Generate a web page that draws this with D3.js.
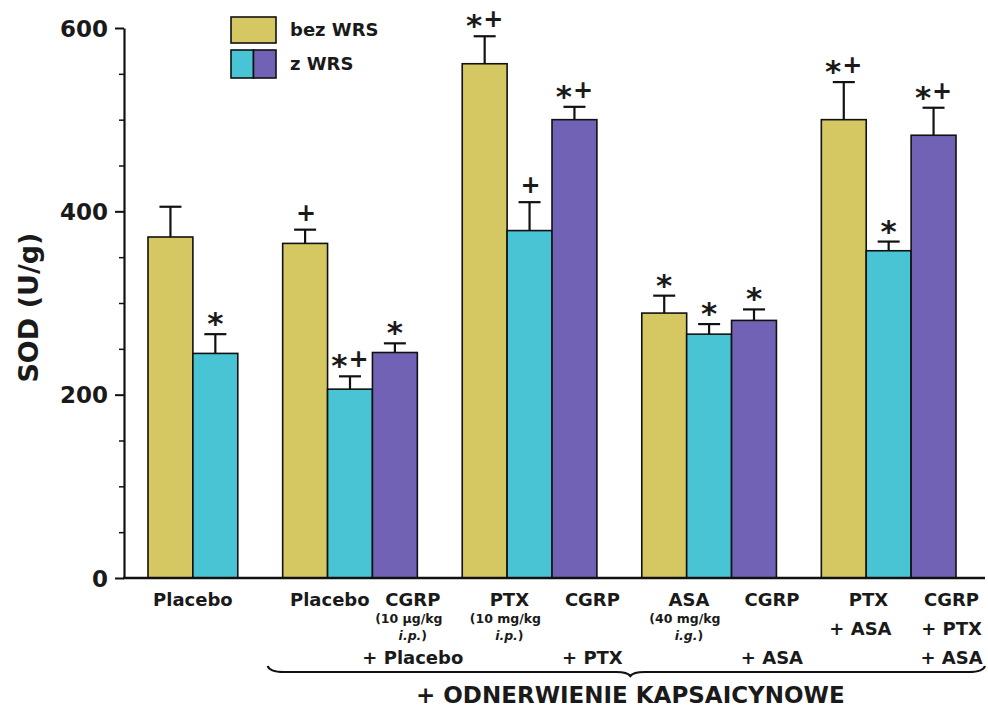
<!DOCTYPE html>
<html>
<head>
  <meta charset="utf-8">
  <title>SOD (U/g)</title>
  <script src="https://d3js.org/d3.v7.min.js"></script>
  <style>
    body { margin: 0; background: #fff; }
    text { font-family: "DejaVu Sans", "Liberation Sans", Arial, sans-serif; font-weight: bold; fill: #1a1a1a; }
  </style>
</head>
<body>
  <svg id="chart" width="988" height="707"></svg>
  <script>
    // dane
    const seriesNames = ["bez WRS", "z WRS"];
    const sodMean = [[372, 245], [365, 206, 246], [561, 379, 500], [289, 266, 281], [500, 357, 483]];
    const sodErr = [[33, 21], [15, 14, 10], [30, 31, 14], [19, 11, 12], [41, 10, 30]];
    const signif = [["", "*"], ["+", "*+", "*"], ["*+", "+", "*+"], ["*", "*", "*"], ["*+", "*", "*+"]];
    const yTicks = [0, 200, 400, 600];
    const treatLabels = [["Placebo"], ["Placebo", "CGRP"], ["PTX", "CGRP"], ["ASA", "CGRP"], ["PTX", "CGRP"]];
    const doseLabels = [[""], ["", "(10 µg/kg"], ["(10 mg/kg", ""], ["(40 mg/kg", ""], ["", ""]];
    const routeLabels = [[""], ["", "i.p."], ["i.p.", ""], ["i.g.", ""], ["", ""]];
    const addRowA = [[""], ["", ""], ["", ""], ["", ""], ["+ ASA", "+ PTX"]];
    const addRowB = [[""], ["", "+ Placebo"], ["", "+ PTX"], ["", "+ ASA"], ["", "+ ASA"]];
    const braceTitle = "+ ODNERWIENIE KAPSAICYNOWE";
    const axisTitle = "SOD (U/g)";

    const colors = ["#d5c862", "#48c4d4", "#7262b6"];

    const svg = d3.select("#chart");

    // sloty słupków z przerwami między grupami
    const slots = [];
    sodMean.forEach((g, gi) => {
      if (gi > 0) slots.push("gap" + gi);
      g.forEach((v, bi) => slots.push(gi + "-" + bi));
    });
    const x = d3.scaleBand().domain(slots).range([148, 956]).padding(0);
    const bw = x.bandwidth();
    const y = d3.scaleLinear().domain([0, 600]).range([578, 28]);
    const axisX = 124;

    const bars = [];
    sodMean.forEach((g, gi) => g.forEach((v, bi) => bars.push({
      gi, bi, v, err: sodErr[gi][bi], mark: signif[gi][bi], key: gi + "-" + bi
    })));

    // słupki
    svg.append("g").selectAll("rect").data(bars).join("rect")
      .attr("x", d => x(d.key))
      .attr("y", d => y(d.v))
      .attr("width", bw)
      .attr("height", d => y(0) - y(d.v))
      .attr("fill", d => colors[d.bi])
      .attr("stroke", "#111")
      .attr("stroke-width", 1.6);

    // słupki błędów
    const eb = svg.append("g").attr("stroke", "#111").attr("stroke-width", 2.2);
    eb.selectAll("line.v").data(bars).join("line").attr("class", "v")
      .attr("x1", d => x(d.key) + bw / 2).attr("x2", d => x(d.key) + bw / 2)
      .attr("y1", d => y(d.v)).attr("y2", d => y(d.v + d.err));
    eb.selectAll("line.c").data(bars).join("line").attr("class", "c")
      .attr("x1", d => x(d.key) + bw / 2 - 11).attr("x2", d => x(d.key) + bw / 2 + 11)
      .attr("y1", d => y(d.v + d.err)).attr("y2", d => y(d.v + d.err));

    // oznaczenia istotności
    const marks = svg.append("g").selectAll("text").data(bars.filter(d => d.mark)).join("text")
      .attr("x", d => x(d.key) + bw / 2)
      .attr("y", d => y(d.v + d.err) - 9)
      .attr("text-anchor", "middle");
    marks.each(function (d) {
      const t = d3.select(this);
      d.mark.split("").forEach(ch => {
        if (ch === "*") t.append("tspan").attr("font-size", 31).attr("baseline-shift", "-28%").text("*");
        else t.append("tspan").attr("font-size", 24).attr("dx", 1).text("+");
      });
    });

    // oś Y
    const yAxis = svg.append("g")
      .attr("transform", `translate(${axisX},0)`)
      .call(d3.axisLeft(y).tickValues(yTicks).tickSize(9).tickSizeOuter(0).tickPadding(7));
    yAxis.select(".domain").attr("stroke", "#111").attr("stroke-width", 2.2);
    yAxis.selectAll(".tick line").attr("stroke", "#111").attr("stroke-width", 2);
    yAxis.selectAll(".tick text").attr("font-size", 23).attr("font-family", null).attr("fill", "#1a1a1a").attr("dy", "0.36em");

    const minor = d3.range(50, 600, 50).filter(v => v % 200 !== 0);
    svg.append("g")
      .attr("transform", `translate(${axisX},0)`)
      .call(d3.axisLeft(y).tickValues(minor).tickSize(5).tickSizeOuter(0).tickFormat(""))
      .call(g => g.select(".domain").remove())
      .selectAll(".tick line").attr("stroke", "#111").attr("stroke-width", 1.5);

    // oś X
    svg.append("line")
      .attr("x1", axisX - 1).attr("x2", x.range()[1] + 29)
      .attr("y1", y(0)).attr("y2", y(0))
      .attr("stroke", "#111").attr("stroke-width", 2.4);

    svg.append("text")
      .attr("transform", `translate(28,${y(295)}) rotate(-90)`)
      .attr("text-anchor", "middle")
      .attr("dy", "0.36em")
      .attr("font-size", 27)
      .text(axisTitle);

    // etykiety kategorii
    const labelCenter = (gi, li) => {
      const n = sodMean[gi].length;
      if (n === 2) return x(gi + "-0") + bw;
      if (li === 0) return x(gi + "-0") + bw * 1.05;
      return x(gi + "-" + (n - 1)) + bw * 0.9;
    };
    const lab = svg.append("g").attr("text-anchor", "middle");
    treatLabels.forEach((row, gi) => row.forEach((t, li) => {
      const cx = labelCenter(gi, li);
      lab.append("text").attr("x", cx).attr("y", 606).attr("font-size", 18).text(t);
      if (doseLabels[gi][li]) {
        lab.append("text").attr("x", cx - 4).attr("y", 623).attr("font-size", 12.5).text(doseLabels[gi][li]);
        const r = lab.append("text").attr("x", cx).attr("y", 640).attr("font-size", 12.5);
        r.append("tspan").attr("font-style", "italic").text(routeLabels[gi][li]);
        r.append("tspan").text(")");
      }
      if (addRowA[gi][li]) lab.append("text").attr("x", cx - (li === 0 ? 8 : 0)).attr("y", 635).attr("font-size", 18).text(addRowA[gi][li]);
      if (addRowB[gi][li]) lab.append("text").attr("x", cx).attr("y", 664).attr("font-size", 18).text(addRowB[gi][li]);
    }));

    // klamra
    const bx0 = x("1-0") - 15, bx1 = x.range()[1] + 29, by = 672, bm = (bx0 + bx1) / 2 + 4;
    svg.append("path")
      .attr("d", `M${bx0},${by - 6} Q${bx0 + 2},${by} ${bx0 + 16},${by} L${bm - 14},${by} Q${bm - 3},${by} ${bm},${by + 4} Q${bm + 3},${by} ${bm + 14},${by} L${bx1 - 16},${by} Q${bx1 - 2},${by} ${bx1},${by - 6}`)
      .attr("fill", "none").attr("stroke", "#111").attr("stroke-width", 2.2);
    svg.append("text")
      .attr("x", bm).attr("y", 703)
      .attr("text-anchor", "middle")
      .attr("font-size", 23)
      .text(braceTitle);

    // legenda
    const lg = svg.append("g").attr("transform", "translate(231,17)");
    lg.append("rect").attr("width", 45).attr("height", 26).attr("fill", colors[0]).attr("stroke", "#111").attr("stroke-width", 1.6);
    lg.append("rect").attr("y", 33).attr("width", 22.5).attr("height", 28).attr("fill", colors[1]).attr("stroke", "#111").attr("stroke-width", 1.6);
    lg.append("rect").attr("x", 22.5).attr("y", 33).attr("width", 22.5).attr("height", 28).attr("fill", colors[2]).attr("stroke", "#111").attr("stroke-width", 1.6);
    lg.selectAll("text").data(seriesNames).join("text")
      .attr("x", 59)
      .attr("y", (d, i) => i === 0 ? 13 : 47)
      .attr("dy", "0.36em")
      .attr("font-size", 18)
      .text(d => d);
  </script>
</body>
</html>
